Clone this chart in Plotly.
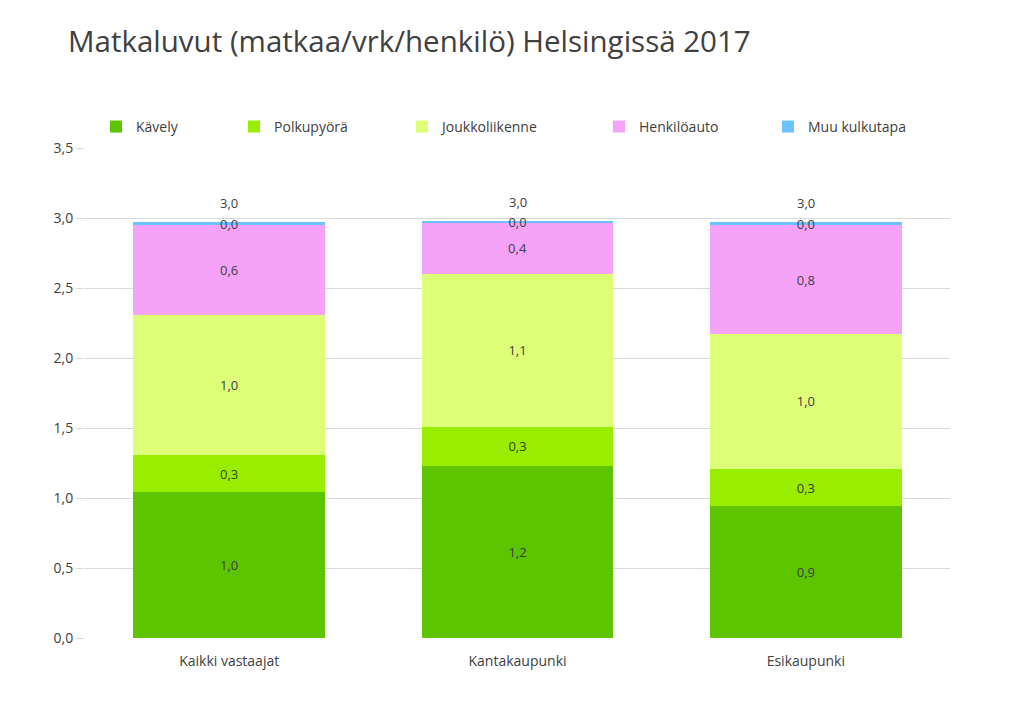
import plotly.graph_objects as go

categories = ["Kaikki vastaajat", "Kantakaupunki", "Esikaupunki"]
series_names = ["Kävely", "Polkupyörä", "Joukkoliikenne", "Henkilöauto", "Muu kulkutapa"]
kavely = [1.04, 1.23, 0.94]
polkupyora = [0.27, 0.28, 0.27]
joukkoliikenne = [1.00, 1.09, 0.96]
henkiloauto = [0.64, 0.37, 0.78]
muu = [0.02, 0.01, 0.02]
colors = ["#5cc400", "#99ee00", "#ddff77", "#f5a3f8", "#6ec1ff"]
y_ticks = [0, 0.5, 1.0, 1.5, 2.0, 2.5, 3.0, 3.5]
legend_x = [0.0127, 0.1723, 0.3665, 0.5942, 0.7896]

series = [kavely, polkupyora, joukkoliikenne, henkiloauto, muu]
font = "Open Sans"
txt = "#404040"
fig = go.Figure()
for i, (name, vals, col) in enumerate(zip(series_names, series, colors)):
    fig.add_trace(go.Bar(
        x=categories, y=vals, name=name, marker=dict(color=col, line=dict(width=0)),
        texttemplate="%{y:.1f}", textposition="inside", insidetextanchor="middle",
        constraintext="none", textangle=0,
        textfont=dict(family=font, size=13, color=txt),
        legend="legend" if i == 0 else f"legend{i + 1}", showlegend=True,
    ))

totals = [sum(v) for v in zip(*series)]
for c, t in zip(categories, totals):
    fig.add_annotation(x=c, y=t, text=f"{t:.1f}".replace(".", ","), showarrow=False,
                       yanchor="bottom", yshift=8, font=dict(family=font, size=13, color=txt))

legend_common = dict(orientation="h", xanchor="left", y=1.043, yanchor="middle",
                     font=dict(family=font, size=14, color=txt), bgcolor="rgba(0,0,0,0)")
legends = {}
for i, lx in enumerate(legend_x):
    key = "legend" if i == 0 else f"legend{i + 1}"
    legends[key] = dict(x=lx, **legend_common)

fig.update_layout(
    barmode="stack", bargap=0.335, separators=", ", showlegend=True,
    width=1024, height=702, paper_bgcolor="white", plot_bgcolor="white",
    margin=dict(l=77, r=82, t=140, b=72),
    title=dict(text="Matkaluvut (matkaa/vrk/henkilö) Helsingissä 2017", x=60/1024, xanchor="left",
               y=1 - 34/702, yanchor="middle", font=dict(family=font, size=29.5, color=txt)),
    font=dict(family=font, size=14, color=txt),
    **legends,
)
fig.update_yaxes(range=[0, 3.5], tickvals=y_ticks, tickformat=".1f", showgrid=True, gridcolor="#d9d9d9",
                 zeroline=False, showline=False, ticks="outside", ticklen=8, tickcolor="#d9d9d9",
                 tickfont=dict(family=font, size=14, color=txt))
fig.update_xaxes(showgrid=False, showline=False, ticks="outside", ticklen=10, tickcolor="rgba(0,0,0,0)",
                 tickfont=dict(family=font, size=14, color=txt))

fig.write_html("out.html")
